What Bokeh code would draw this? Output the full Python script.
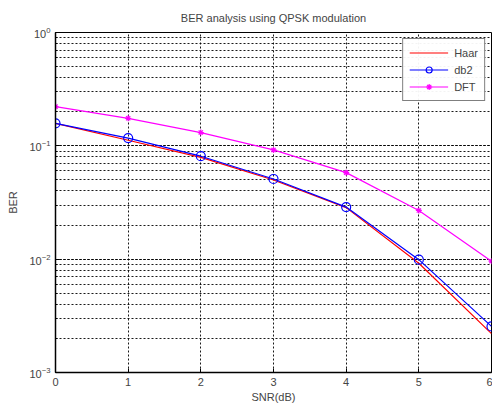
from bokeh.plotting import figure
from bokeh.models import Legend, LegendItem, FixedTicker, Range1d
from bokeh.embed import file_html
from bokeh.resources import INLINE

snr = [0, 1, 2, 3, 4, 5, 6]
haar = [0.158, 0.112, 0.079, 0.050, 0.0285, 0.0092, 0.0022]
db2 = [0.158, 0.117, 0.081, 0.051, 0.0288, 0.0099, 0.00255]
dft = [0.222, 0.175, 0.131, 0.092, 0.058, 0.0269, 0.0096]

FONT = "Liberation Sans"

p = figure(width=492, height=410, output_backend="svg", toolbar_location=None,
           y_axis_type="log", x_range=Range1d(0, 6), y_range=Range1d(1e-3, 1),
           min_border_left=55, min_border_right=1, min_border_top=0, min_border_bottom=38,
           title="BER analysis using QPSK modulation")
p.title.align = "center"
p.title.text_font = FONT
p.title.text_font_size = "11px"
p.title.text_font_style = "normal"
p.title.standoff = 18

p.outline_line_color = "black"
p.outline_line_width = 1

for ax in (p.xaxis, p.yaxis):
    ax.axis_line_color = "black"
    ax.axis_line_width = 1.5
    ax.major_tick_out = 0
    ax.major_tick_in = 4
    ax.minor_tick_out = 0
    ax.minor_tick_in = 2
    ax.major_label_text_font = FONT
    ax.major_label_text_font_size = "11px"
    ax.axis_label_text_font = FONT
    ax.axis_label_text_font_size = "11px"
    ax.axis_label_text_font_style = "normal"

p.xaxis.ticker = FixedTicker(ticks=snr)
p.xaxis.minor_tick_line_color = None
p.xaxis.axis_label = "SNR(dB)"
p.xaxis.major_label_standoff = 5
p.xaxis.axis_label_standoff = 2
p.yaxis.axis_label = "BER"
p.yaxis.major_label_standoff = 5
p.yaxis.axis_label_standoff = 7

for g in (p.xgrid, p.ygrid):
    g.grid_line_color = "black"
    g.grid_line_dash = "2 2"
    g.grid_line_width = 1
    g.grid_line_alpha = 0.9
p.ygrid.minor_grid_line_color = "black"
p.ygrid.minor_grid_line_dash = "2 2"
p.ygrid.minor_grid_line_alpha = 0.9

r1 = p.line(snr, haar, line_color="red", line_width=1.2)
r2 = p.line(snr, db2, line_color="blue", line_width=1.2)
r2m = p.scatter(snr, db2, marker="circle", size=9, line_color="blue", fill_color=None, line_width=1.2)
r3 = p.line(snr, dft, line_color="magenta", line_width=1.2)
r3m = p.scatter(snr, dft, marker="asterisk", size=6, line_color="magenta", line_width=1.2)

legend = Legend(items=[
    LegendItem(label="Haar", renderers=[r1]),
    LegendItem(label="db2", renderers=[r2, r2m]),
    LegendItem(label="DFT", renderers=[r3, r3m]),
], location="top_right")
legend.label_text_font = FONT
legend.label_text_font_size = "11px"
legend.border_line_color = "black"
legend.border_line_width = 1
legend.glyph_width = 39
legend.glyph_height = 15
legend.label_height = 15
legend.spacing = 2
legend.padding = 6
legend.margin = 6
legend.label_standoff = 6
p.add_layout(legend, "center")

open("out.html", "w").write(file_html(p, INLINE))
